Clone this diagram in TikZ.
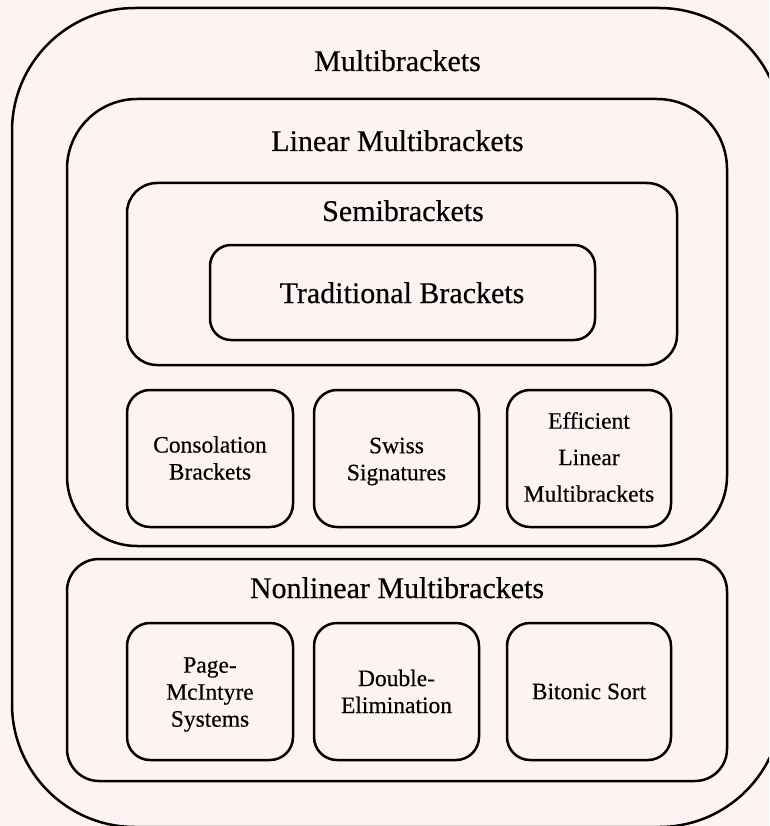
\documentclass[tikz,border=0pt]{standalone}
\usepackage{fontspec}
\setmainfont{Liberation Serif}[FakeBold=0.4]
\definecolor{bgpink}{RGB}{254,243,243}
\begin{document}
\begin{tikzpicture}[x=1pt,y=-1pt,
  box/.style={draw=black, line width=2.5pt, rounded corners=#1, inner sep=0pt, outer sep=0pt},
  title/.style={anchor=base, inner sep=0pt, font=\fontsize{30}{36}\selectfont},
  small/.style={align=center, inner sep=0pt, font=\fontsize{23.5}{27}\selectfont},
  wide/.style={align=center, inner sep=0pt, font=\fontsize{23.5}{36.5}\selectfont}]
\clip (0,0) rectangle (769,826);
\fill[bgpink] (0,0) rectangle (769,826);
% containers
\node[box=123pt, minimum width=770pt, minimum height=819pt] (outer) at (397,417.5) {};
\node[box=70pt, minimum width=660pt, minimum height=447pt] (linear) at (397,322.5) {};
\node[box=30pt, minimum width=550pt, minimum height=182pt] (semi) at (402,274) {};
\node[box=21pt, minimum width=385pt, minimum height=95pt] (trad) at (402.5,292.5) {};
\node[box=32pt, minimum width=660pt, minimum height=222pt] (nonlin) at (397,670) {};
% small boxes
\node[box=23pt, minimum width=166pt, minimum height=137pt] (cons) at (210,458.5) {};
\node[box=23pt, minimum width=165pt, minimum height=137pt] (swiss) at (396.5,458.5) {};
\node[box=23pt, minimum width=164pt, minimum height=137pt] (eff) at (589,458.5) {};
\node[box=23pt, minimum width=166pt, minimum height=137pt] (page) at (210,691.5) {};
\node[box=23pt, minimum width=165pt, minimum height=137pt] (dbl) at (396.5,691.5) {};
\node[box=23pt, minimum width=164pt, minimum height=137pt] (bit) at (589,691.5) {};
% titles
\node[title] (toutr) at (397.5,71) {Multibrackets};
\node[title] (tlin) at (397.5,151) {Linear Multibrackets};
\node[title] (tsemi) at (403,221) {Semibrackets};
\node[title] (ttrad) at (402,303) {Traditional Brackets};
\node[title] (tnon) at (397,598) {Nonlinear Multibrackets};
% small texts
\node[small] (lcons) at ([yshift=0.5pt]cons.center) {Consolation\\Brackets};
\node[small] (lswiss) at ([yshift=-3pt]swiss.center) {Swiss\\Signatures};
\node[wide] (leff) at ([yshift=1.5pt]eff.center) {Efficient\\Linear\\Multibrackets};
\node[small] (lpage) at ([yshift=-3pt]page.center) {Page-\\McIntyre\\Systems};
\node[small] (ldbl) at (dbl) {Double-\\Elimination};
\node[small] (lbit) at (bit) {Bitonic Sort};
\end{tikzpicture}
\end{document}
